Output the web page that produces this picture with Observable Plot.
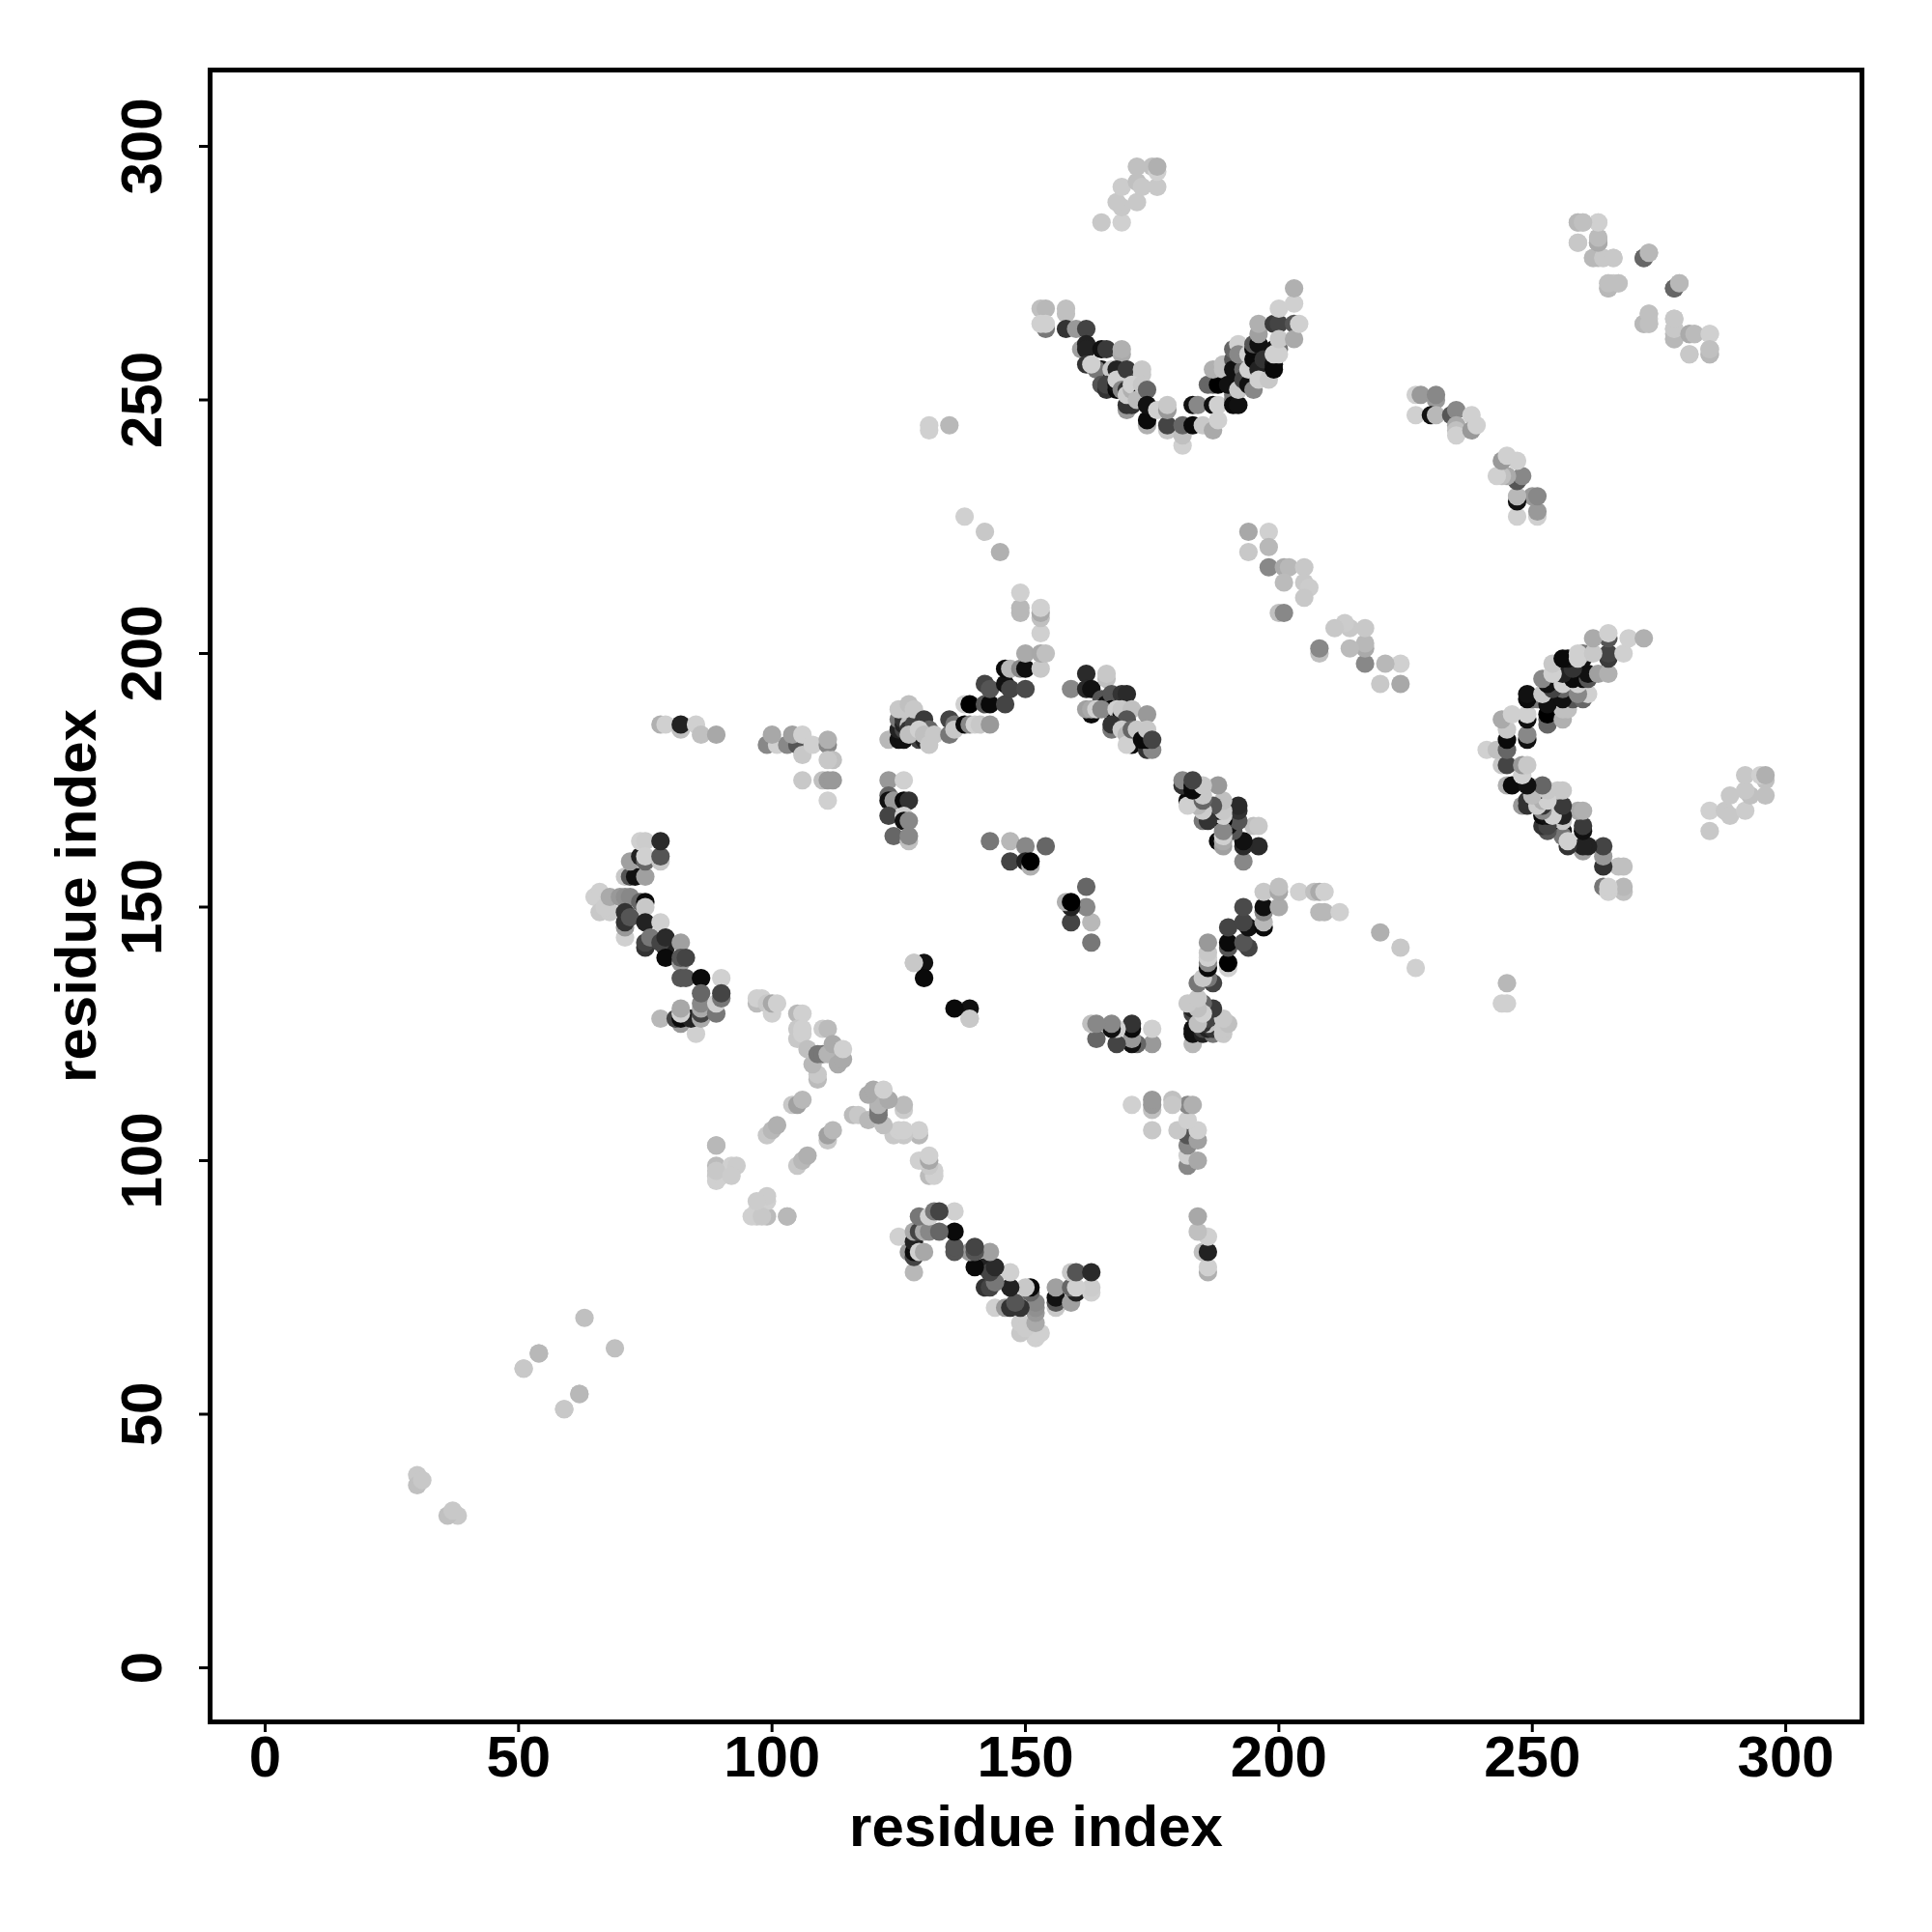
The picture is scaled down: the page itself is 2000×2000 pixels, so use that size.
<!DOCTYPE html>
<html><head><meta charset="utf-8">
<script src="https://cdn.jsdelivr.net/npm/d3@7"></script>
<script src="https://cdn.jsdelivr.net/npm/@observablehq/plot@0.6"></script>
<style>html,body{margin:0;padding:0;background:#fff}svg{display:block}</style>
</head><body><div id="chart"></div>
<script>
// Contact pairs [residue i, residue j, gray level]; the map is symmetric, so each pair is drawn at (i,j) and (j,i).
const nearDiagonal = [[30,38,200],[30,36,192],[31,37,200],[51,59,200],[54,62,184],[59,51,200],[62,54,184],[63,69,192]];
const helixC = [
[65,152,208],[66,153,208],[66,152,208],[66,149,200],[68,149,204],[67,150,204],[68,152,170],[70,152,153],[71,152,144],[72,152,136],
[71,144,208],[71,146,153],[71,147,51],[71,149,51],[72,148,85],[74,151,102],[75,151,10],[75,150,200],
[71,156,200],[72,156,85],[73,156,17],[75,156,160],[72,159,160],[74,160,34],[75,159,102],[74,163,208],[75,163,204],[75,160,208],
[78,159,200],[78,160,85],[78,163,42],[75,147,34],[78,147,208],[75,142,51],[75,143,68],[76,144,119],[79,142,34],[78,143,68],[79,144,42],[82,143,160],
[79,140,10],[82,139,153],[82,140,85],[83,140,68],[82,136,85],[83,136,85],[86,136,10],[90,136,208],
[85,125,208],[78,128,184],[82,127,153],[81,128,68],[82,128,10],[84,128,34],[82,129,208],[82,130,168],
[86,128,170],[86,129,68],[86,130,170],[86,131,136],[86,133,102],[89,129,119],[89,131,208],[90,132,119],[90,133,68]];
const lightArm = [
[97,131,187],[97,132,208],[98,132,208],[99,131,200],[100,129,208],[100,131,168],[101,131,208],[105,129,184],[106,129,208],
[105,124,200],[105,126,200],[106,125,208],[106,126,208],[109,116,187],[109,117,200],[108,119,184],
[107,122,192],[109,121,119],[110,121,119],[111,121,180],[110,126,204],[111,126,187],[112,123,170],[113,119,170],[114,120,170],[114,122,208],
[99,105,200],[100,106,184],[101,107,176],[104,111,200],[105,111,160],[106,112,184],
[89,103,184],[89,99,187],[92,99,208],[93,99,204],[89,97,200],[89,96,208],[90,97,208],[89,98,200],[92,97,204],[103,89,184]];
const helixE = [
[123,183,184],[125,183,17],[126,183,17],[125,185,34],[126,185,68],[125,187,119],[126,186,34],[126,187,51],[127,186,192],[127,185,51],[128,184,34],[128,186,68],[125,189,200],[126,189,200],[127,190,192],[128,189,200],[129,183,68],[130,183,34],[130,187,58],[131,185,102],[127,184,192],[129,185,208],[130,184,192],[131,182,200],[132,184,200],
[135,184,119],[135,187,68],[136,186,119],[136,185,200],[138,186,10],[139,186,136],[140,186,208],[141,186,200],[143,186,153],
[138,190,208],[139,190,0],[142,190,85],[143,190,10],[146,190,68],[142,194,68],[143,193,85],[146,194,17],[147,193,68],[150,193,74],
[146,197,10],[147,197,184],[149,197,136],[150,197,15],[153,197,200],[150,200,170],[153,200,168],[154,200,192],
[153,204,208],[153,207,192],[153,208,170],[153,209,208],[149,208,184],[149,209,184],[149,212,208]];
const helixLower = [
[123,175,153],[126,175,208],[123,172,102],[123,171,17],[124,171,153],[126,171,10],[127,171,51],[123,168,68],[126,168,208],[126,167,17],[127,167,136],[124,164,102],[127,163,192],[127,164,136]];
const sideArm = [
[99,182,136],[101,182,208],[103,182,136],[105,182,85],[104,184,160],[100,184,168],[106,184,208],[106,180,200],[108,182,208],
[111,182,136],[111,183,176],[112,179,192],[111,179,200],[110,175,192],[111,175,153],[112,175,153],[106,175,200],[111,171,208],
[78,186,176],[79,186,208],[82,185,192],[82,186,34],[85,186,208],[86,184,192],[89,184,168]];
const innerPairs = [
[143,163,119],[147,163,184],[150,162,136],[154,162,102],[147,159,68],[150,159,34],[151,158,176],[151,159,0],
[128,139,200],[130,139,17],[130,136,10],[139,128,200],
[131,245,208],[131,244,208],[135,245,184],[138,227,208],[142,224,200],[145,220,176]];
const helixRight = [
[159,193,136],[162,196,42],[166,195,192],[166,196,200],[162,193,42],[163,193,17],[165,191,85],[166,190,17],[167,192,85],[169,192,51],[170,192,42],
[163,188,10],[162,189,160],[163,189,170],[164,189,208],[167,189,0],[165,189,136],[168,189,208],[169,188,17],[169,189,200],[171,189,192],[174,188,153],[170,187,85],[167,185,119],[167,186,51],
[169,185,204],[170,184,184],[171,183,184],[171,182,10],[170,182,208],[171,185,102],[172,185,200],[174,181,51],[175,181,136],[173,183,10],[174,183,10],[174,185,200],[175,183,68]];
const topCluster = [
[165,285,200],[169,285,208],[169,288,200],[168,289,200],[172,289,200],[169,292,204],[172,293,192],[173,292,200],[176,292,200],[172,296,192],[175,296,192],[176,295,208],[176,296,176]];
const vArmLeft = [
[153,268,192],[154,268,184],[158,268,192],[158,267,192],[154,264,119],[153,265,208],[154,265,208],[158,264,51],[160,264,153],[162,264,68],
[161,260,160],[162,261,34],[162,260,34],[162,257,51],[165,260,17],[166,260,58],[169,259,170],[169,260,176],
[165,256,17],[164,256,119],[163,257,208],[167,256,200],[165,253,85],[166,252,51],[166,253,68],[168,256,34],[168,252,10],[168,253,17],[168,254,208],[169,252,136],[170,256,58],[173,255,200],[173,256,200],
[170,248,153],[170,249,51],[171,249,51],[170,252,51],[170,251,204],[171,252,176],[171,253,208],[173,251,17],[172,250,187],[173,253,200],[174,252,102],
[174,245,176],[174,246,10],[174,249,17],[176,248,208],[178,244,200],[178,245,68],[178,248,153],[178,249,200]];
const vArmRight = [
[181,241,208],[181,243,192],[181,245,102],[183,249,17],[184,249,136],[183,245,10],[185,245,200],[187,244,170],[187,249,15],[188,246,208],[188,249,208],
[186,253,102],[187,253,102],[188,253,0],[187,256,176],[189,256,192],[189,257,192],[191,251,119],[191,250,119],[191,249,10],[192,249,17],[190,253,17],[192,252,200],[191,258,85],[191,256,17],[193,256,102],[191,260,102],[192,261,208],[192,259,136],
[193,254,68],[194,253,17],[194,256,208],[194,259,208],[195,252,136],[195,258,10],[195,260,10],[195,261,85],[196,256,34],[196,254,208],[198,254,200],[196,261,17],[196,263,160],[196,265,176],
[197,258,51],[199,257,17],[199,256,10],[199,260,17],[200,260,119],[199,259,208],[199,265,58],[200,265,68],[200,259,208],[200,262,200],[203,265,85],[203,262,170],[204,265,208],[200,268,208],[203,269,208],[203,272,176]];
const bridge = [
[194,224,168],[198,224,208],[194,220,200],[198,221,184],[198,217,136],[201,217,170],[202,217,184],[205,217,200],
[201,214,187],[205,214,200],[206,213,204],[205,211,200],[200,208,192],[201,208,136]];
const farCorner = [
[259,285,200],[260,285,192],[263,285,208],[259,281,208],[263,281,168],[263,282,184],[262,278,200],[263,278,187],[264,278,208],[266,278,200],
[265,272,187],[265,273,200],[266,273,200],[267,273,208],[272,278,85],[273,279,184],[278,272,102],[279,273,184],
[272,265,184],[273,265,192],[273,267,192],[278,262,184],[278,264,200],[278,266,200],[281,263,170],[282,263,187],[285,263,208],[281,259,200],[285,259,184],[285,260,192]];
const upperBlock = [
[227,251,208],[228,251,153],[231,250,153],[231,251,136],[227,247,208],[230,247,17],[231,247,184],[234,247,85],[235,248,136],
[235,245,170],[235,244,192],[235,243,208],[238,247,208],[238,244,153],[239,245,208]];
const xTicks = [0,50,100,150,200,250,300];
const yTicks = [0,50,100,150,200,250,300];

const pairs = [...nearDiagonal,...helixC,...lightArm,...helixE,...helixLower,...sideArm,...innerPairs,...helixRight,...topCluster,...vArmLeft,...vArmRight,...bridge,...farCorner,...upperBlock];
const table = pairs.flatMap(([i,j,level])=>[{i,j,level},{i:j,j:i,level}]);
const fs = 60;
const chart = Plot.plot({
  width:2000,height:2000,
  marginLeft:217,marginRight:73,marginTop:72,marginBottom:218,
  style:{fontFamily:"'Liberation Sans',Arial,sans-serif",fontWeight:"bold",background:"#fff",color:"#000"},
  x:{domain:[-10.86,315.04]},
  y:{domain:[-10.67,315.05]},
  color:{type:"linear",domain:[0,255],range:["#000","#fff"]},
  marks:[
    Plot.dot(table,{x:"i",y:"j",fill:"level",r:9.6}),
    Plot.frame({stroke:"#000",strokeWidth:5}),
    Plot.axisX({ticks:xTicks,tickSize:11,tickPadding:3,strokeWidth:3,fontSize:fs,tickFormat:d=>String(d),
      label:"residue index",labelAnchor:"center",labelArrow:"none",labelOffset:128}),
    Plot.axisY({ticks:yTicks,tickSize:11,tickPadding:40,strokeWidth:3,fontSize:fs,tickRotate:-90,textAnchor:"middle",tickFormat:d=>String(d),
      label:"residue index",labelAnchor:"center",labelArrow:"none",labelOffset:161})
  ]
});
document.getElementById("chart").appendChild(chart);
</script></body></html>
